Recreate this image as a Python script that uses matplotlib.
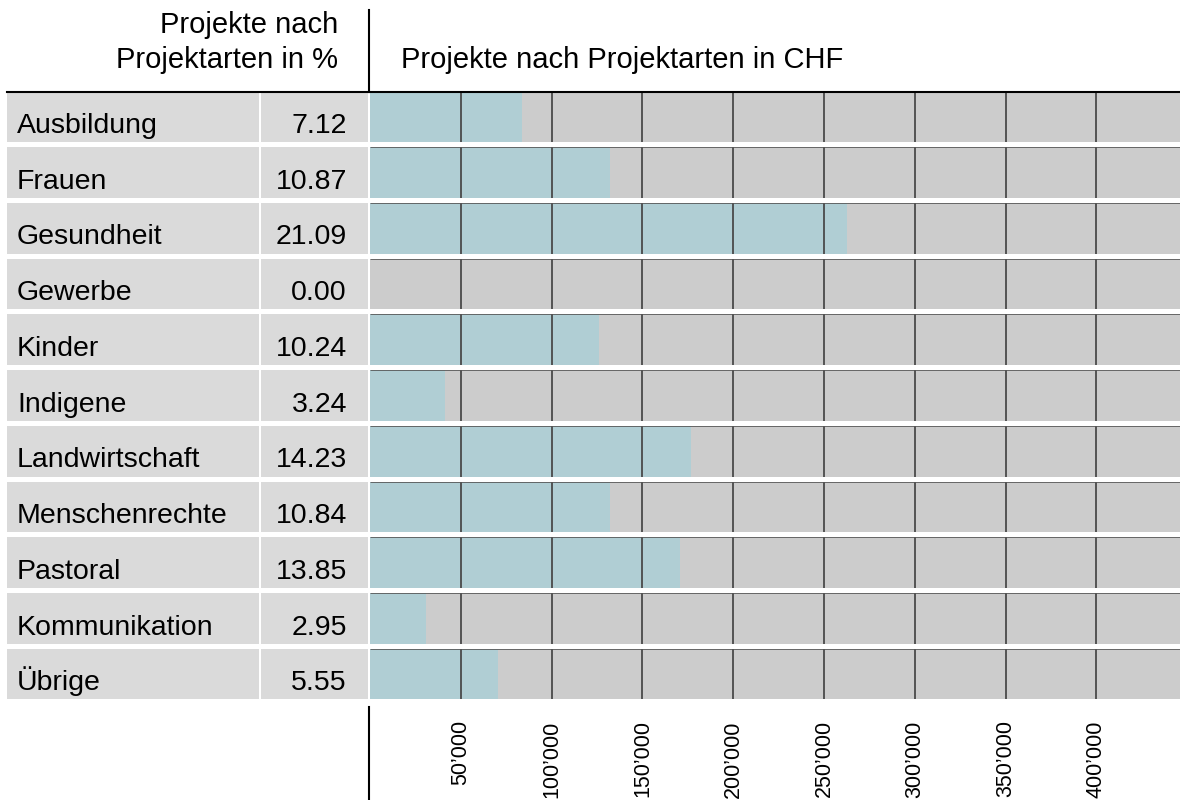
import matplotlib.pyplot as plt
from matplotlib.lines import Line2D

plt.rcParams['font.family'] = ['Liberation Sans', 'DejaVu Sans']

categories = ['Ausbildung', 'Frauen', 'Gesundheit', 'Gewerbe', 'Kinder', 'Indigene',
              'Landwirtschaft', 'Menschenrechte', 'Pastoral', 'Kommunikation', 'Übrige']
percent = [7.12, 10.87, 21.09, 0.00, 10.24, 3.24, 14.23, 10.84, 13.85, 2.95, 5.55]
chf = [83700, 132200, 262700, 0, 126100, 41300, 176800, 132200, 170700, 30800, 70500]
ticks = [50000, 100000, 150000, 200000, 250000, 300000, 350000, 400000]
tick_labels = [f'{t:,}'.replace(',', '\u2019') for t in ticks]

W, H = 1180, 800
bar_color = '#b0ced4'
bg_color = '#cccccc'
cell_color = '#dadada'
fs = 20.5
h = 0.91
n = len(categories)
rows = list(range(n))

fig = plt.figure(figsize=(W / 100, H / 100), dpi=100)
bottom, top = 699.5, 91.5
ax_pos = [370 / W, (H - bottom) / H, (W - 370) / W, (bottom - top) / H]
ax = fig.add_axes(ax_pos)
tab = fig.add_axes([0, ax_pos[1], 370 / W, ax_pos[3]], sharey=ax)

xmax = (W - 370) / 90.8 * 50000

# bar area
ax.barh(rows, [xmax] * n, height=h, left=0, color=bg_color, zorder=1)
ax.barh(rows, chf, height=h, left=0, color=bar_color, zorder=2)
for i in rows:
    ax.vlines(ticks, i - h / 2, i + h / 2, color='#4a4a4a', lw=1.3, zorder=3)
    ax.hlines(i - h / 2, 0, xmax, color='#555555', lw=0.6, zorder=3)
ax.set_xlim(0, xmax)
ax.set_ylim(n - 1 + h / 2, -h / 2)
ax.set_xticks(ticks)
ax.set_xticklabels(tick_labels, rotation=90, fontsize=15.5, va='top')
ax.tick_params(axis='x', length=0, pad=15)
ax.tick_params(axis='y', left=False, labelleft=False)
for s in ax.spines.values():
    s.set_visible(False)

# table on the left
tab.set_xlim(0, 370)
tab.barh(rows, [252] * n, height=h, left=7, color=cell_color)
tab.barh(rows, [107] * n, height=h, left=261, color=cell_color)
for i, (c, p) in enumerate(zip(categories, percent)):
    tab.text(17, i + 0.29, c, fontsize=fs, va='baseline', ha='left')
    tab.text(347, i + 0.29, f'{p:.2f}', fontsize=fs, va='baseline', ha='right')
tab.axis('off')

# header line and separators
fig.add_artist(Line2D([7 / W, 1], [(H - top) / H] * 2, color='black', lw=1.5))
fig.add_artist(Line2D([369 / W] * 2, [(H - 10) / H, (H - top) / H], color='black', lw=1.5))
fig.add_artist(Line2D([369 / W] * 2, [(H - 707) / H, 0], color='black', lw=1.5))

fig.text(338 / W, (H - 33) / H, 'Projekte nach', fontsize=21, ha='right', va='baseline')
fig.text(338 / W, (H - 68) / H, 'Projektarten in %', fontsize=21, ha='right', va='baseline')
fig.text(401 / W, (H - 68) / H, 'Projekte nach Projektarten in CHF', fontsize=21,
         ha='left', va='baseline')

plt.savefig('out.png', dpi=100)
